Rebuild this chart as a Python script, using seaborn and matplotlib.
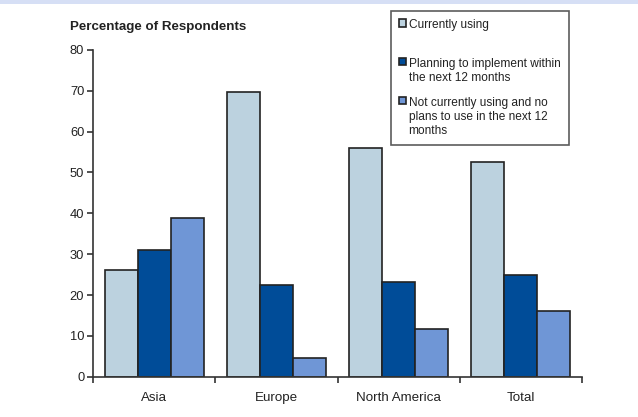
import pandas as pd
import seaborn as sns
import matplotlib.pyplot as plt
from matplotlib.patches import Rectangle

# Chart data
regions = ["Asia", "Europe", "North America", "Total"]
statuses = ["Currently using",
            "Planning to implement within\nthe next 12 months",
            "Not currently using and no\nplans to use in the next 12\nmonths"]
currently_using = [26.0, 69.6, 56.0, 52.6]
planning = [31.0, 22.4, 23.3, 25.0]
not_using = [38.8, 4.6, 11.7, 16.1]
yticks = [0, 10, 20, 30, 40, 50, 60, 70, 80]

colors = ["#bcd2df", "#004c98", "#6f96d6"]

# Long table for seaborn
rows = []
for status, vals in zip(statuses, [currently_using, planning, not_using]):
    for region, v in zip(regions, vals):
        rows.append({"region": region, "status": status, "pct": v})
df = pd.DataFrame(rows)

sns.set_theme(style="white")
plt.rcParams['font.family'] = ['Liberation Sans', 'DejaVu Sans']
plt.rcParams['text.color'] = '#222222'

fig = plt.figure(figsize=(6.38, 4.17), dpi=100)
ax = fig.add_axes([93.3 / 638, 40.3 / 417, 488.4 / 638, 326.8 / 417])

sns.barplot(data=df, x="region", y="pct", hue="status", order=regions,
            hue_order=statuses, palette=colors, saturation=1, width=0.815,
            edgecolor="#222222", linewidth=1.2, ax=ax)

ax.set_xlim(-0.5, 3.5)
ax.set_ylim(0, 80)
ax.set_yticks(yticks)
ax.set_xlabel("")
ax.set_ylabel("")

# group separator ticks, labels in between
ax.set_xticks([-0.5, 0.5, 1.5, 2.5, 3.5], labels=[])
ax.set_xticks(range(len(regions)), labels=regions, minor=True)
ax.tick_params(axis="x", which="major", direction="out", length=4, width=1.2,
               color="#333333", bottom=True)
ax.tick_params(axis="x", which="minor", length=0, pad=11, labelsize=9.6,
               labelcolor="#222222")
ax.tick_params(axis="y", direction="out", length=4, width=1.2, pad=2.5,
               color="#333333", left=True, labelsize=9.3, labelcolor="#222222")

for side in ["top", "right"]:
    ax.spines[side].set_visible(False)
for side in ["left", "bottom"]:
    ax.spines[side].set_color("#333333")
    ax.spines[side].set_linewidth(1.2)

fig.text(70 / 638, 1 - 26.7 / 417, "Percentage of Respondents",
         fontsize=9.6, fontweight="bold", va="center", ha="left")

handles, labels = ax.get_legend_handles_labels()
labels[0] = labels[0] + "\n"
leg = ax.legend(handles, labels, loc="upper left",
                bbox_to_anchor=(390.7 / 638, 1 - 11 / 417),
                bbox_transform=fig.transFigure, borderaxespad=0,
                fontsize=8.6, frameon=True, fancybox=False, shadow=False,
                edgecolor="#333333", handlelength=0.55, handleheight=0.55,
                handletextpad=0.25, labelspacing=1.1, borderpad=0.7)
leg.get_frame().set_linewidth(1.2)
# put each swatch on the first line of its label
for col in leg._legend_handle_box.get_children():
    for hp in col.get_children():
        hp.align = "top"

# thin pale band along the top edge
fig.add_artist(Rectangle((0, 1 - 4 / 417), 1, 4 / 417,
                         transform=fig.transFigure, color="#d6dff5", lw=0))

fig.savefig("out.png", dpi=100)
